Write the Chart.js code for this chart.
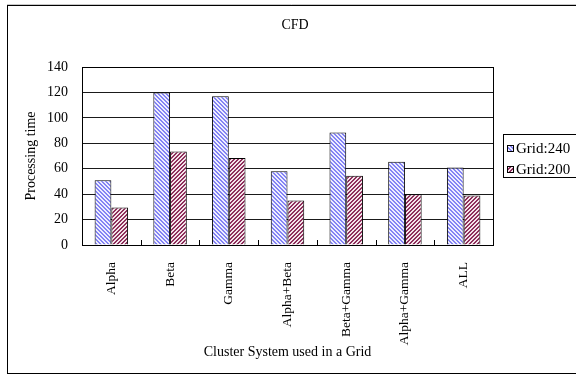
<!DOCTYPE html>
<html>
<head>
<meta charset="utf-8">
<title>CFD</title>
<script src="https://cdn.jsdelivr.net/npm/chart.js@4.4.1/dist/chart.umd.min.js"></script>
<style>
    html, body { margin: 0; padding: 0; background: #fff; }
    #wrap { width: 576px; height: 375px; position: relative; }
</style>
</head>
<body>
<div id="wrap"><canvas id="chart"></canvas></div>
<script>
const categories = ["Alpha", "Beta", "Gamma", "Alpha+Beta", "Beta+Gamma", "Alpha+Gamma", "ALL"];
const grid240 = [51, 120, 117, 58, 88.5, 65.5, 61];
const grid200 = [29.5, 73.5, 68.5, 35, 54.5, 40, 39];
const seriesNames = ["Grid:240", "Grid:200"];
const yTicks = [0, 20, 40, 60, 80, 100, 120, 140];

const FONT = "'Liberation Serif', 'Times New Roman', serif";

// 4x4 diagonal hatch; dir 1 = "\\", dir -1 = "/"
const hatch = (stripe, bg, dir) => {
    const c = document.createElement("canvas");
    c.width = 4;
    c.height = 4;
    const g = c.getContext("2d");
    g.fillStyle = bg;
    g.fillRect(0, 0, 4, 4);
    g.fillStyle = stripe;
    for (let y = 0; y < 4; y++) {
        for (let x = 0; x < 4; x++) {
            const k = ((dir > 0 ? x - y : x + y) % 4 + 4) % 4;
            if (k < 2) g.fillRect(x, y, 1, 1);
        }
    }
    return g.createPattern(c, "repeat");
};

const bluePat = hatch("#8484f4", "#eeeeff", 1);
const redPat = hatch("#8e2f5c", "#f4e4ea", -1);

// frame, title, legend, inner category ticks, plot border
const decor = {
    id: "decor",
    afterDraw(chart) {
        const { ctx, chartArea: a, scales } = chart;
        ctx.save();

        // outer frame
        ctx.strokeStyle = "#c8c8c8";
        ctx.lineWidth = 1;
        ctx.beginPath();
        ctx.moveTo(7, 4.5);
        ctx.lineTo(576, 4.5);
        ctx.stroke();
        ctx.strokeStyle = "#000";
        ctx.strokeRect(7.5, 5.5, 580, 368);

        // plot border
        ctx.strokeRect(Math.round(a.left) + 0.5, Math.round(a.top) + 0.5,
            Math.round(a.right - a.left), Math.round(a.bottom - a.top));

        // category separator ticks, pointing up into the plot
        const x = scales.x;
        ctx.beginPath();
        for (let i = 1; i < categories.length; i++) {
            const px = Math.round((x.getPixelForTick(i - 1) + x.getPixelForTick(i)) / 2) + 0.5;
            ctx.moveTo(px, a.bottom);
            ctx.lineTo(px, a.bottom - 5);
        }
        ctx.stroke();

        // title
        ctx.fillStyle = "#000";
        ctx.font = "14px " + FONT;
        ctx.textAlign = "center";
        ctx.textBaseline = "middle";
        ctx.fillText("CFD", 295, 25);

        // legend
        ctx.strokeRect(503.5, 134.5, 80, 43);
        ctx.textAlign = "left";
        ctx.font = "15px " + FONT;
        const rows = [148, 169];
        chart.data.datasets.forEach((ds, i) => {
            const y = rows[i];
            ctx.fillStyle = ds.backgroundColor;
            ctx.fillRect(507, y - 3, 7, 7);
            ctx.strokeRect(507.5, y - 2.5, 6, 6);
            ctx.fillStyle = "#000";
            ctx.fillText(ds.label, 516, y + 1);
        });

        ctx.restore();
    },
};

new Chart(document.getElementById("chart"), {
    type: "bar",
    data: {
        labels: categories,
        datasets: [
            {
                label: seriesNames[0],
                data: grid240,
                backgroundColor: bluePat,
                borderColor: "#000",
                borderWidth: 1,
                barPercentage: 1,
                categoryPercentage: 0.57,
            },
            {
                label: seriesNames[1],
                data: grid200,
                backgroundColor: redPat,
                borderColor: "#000",
                borderWidth: 1,
                barPercentage: 1,
                categoryPercentage: 0.57,
            },
        ],
    },
    options: {
        responsive: true,
        maintainAspectRatio: false,
        animation: false,
        layout: {
            padding: { top: 67, right: 83, bottom: 0, left: 0 },
        },
        plugins: {
            legend: { display: false },
            title: { display: false },
            tooltip: { enabled: false },
        },
        scales: {
            x: {
                grid: { display: false },
                border: { display: true, color: "#000", width: 1 },
                ticks: {
                    color: "#000",
                    font: { family: FONT, size: 13.5 },
                    minRotation: 90,
                    maxRotation: 90,
                    padding: 9,
                    autoSkip: false,
                },
                title: {
                    display: true,
                    text: "Cluster System used in a Grid",
                    color: "#000",
                    font: { family: FONT, size: 14 },
                    padding: { top: 0, bottom: 14 },
                },
                afterFit: (scale) => {
                    scale.height = 130;
                },
            },
            y: {
                min: 0,
                max: 140,
                afterBuildTicks: (scale) => {
                    scale.ticks = yTicks.map((v) => ({ value: v }));
                },
                grid: { color: "#1a1a1a", lineWidth: 1, drawTicks: false },
                border: { display: true, color: "#000", width: 1 },
                ticks: {
                    color: "#000",
                    font: { family: FONT, size: 14 },
                    padding: 14,
                },
                title: {
                    display: true,
                    text: "Processing time",
                    color: "#000",
                    font: { family: FONT, size: 14 },
                    padding: { top: 23, bottom: 0 },
                },
                afterFit: (scale) => {
                    scale.width = 82;
                },
            },
        },
    },
    plugins: [decor],
});
</script>
</body>
</html>
